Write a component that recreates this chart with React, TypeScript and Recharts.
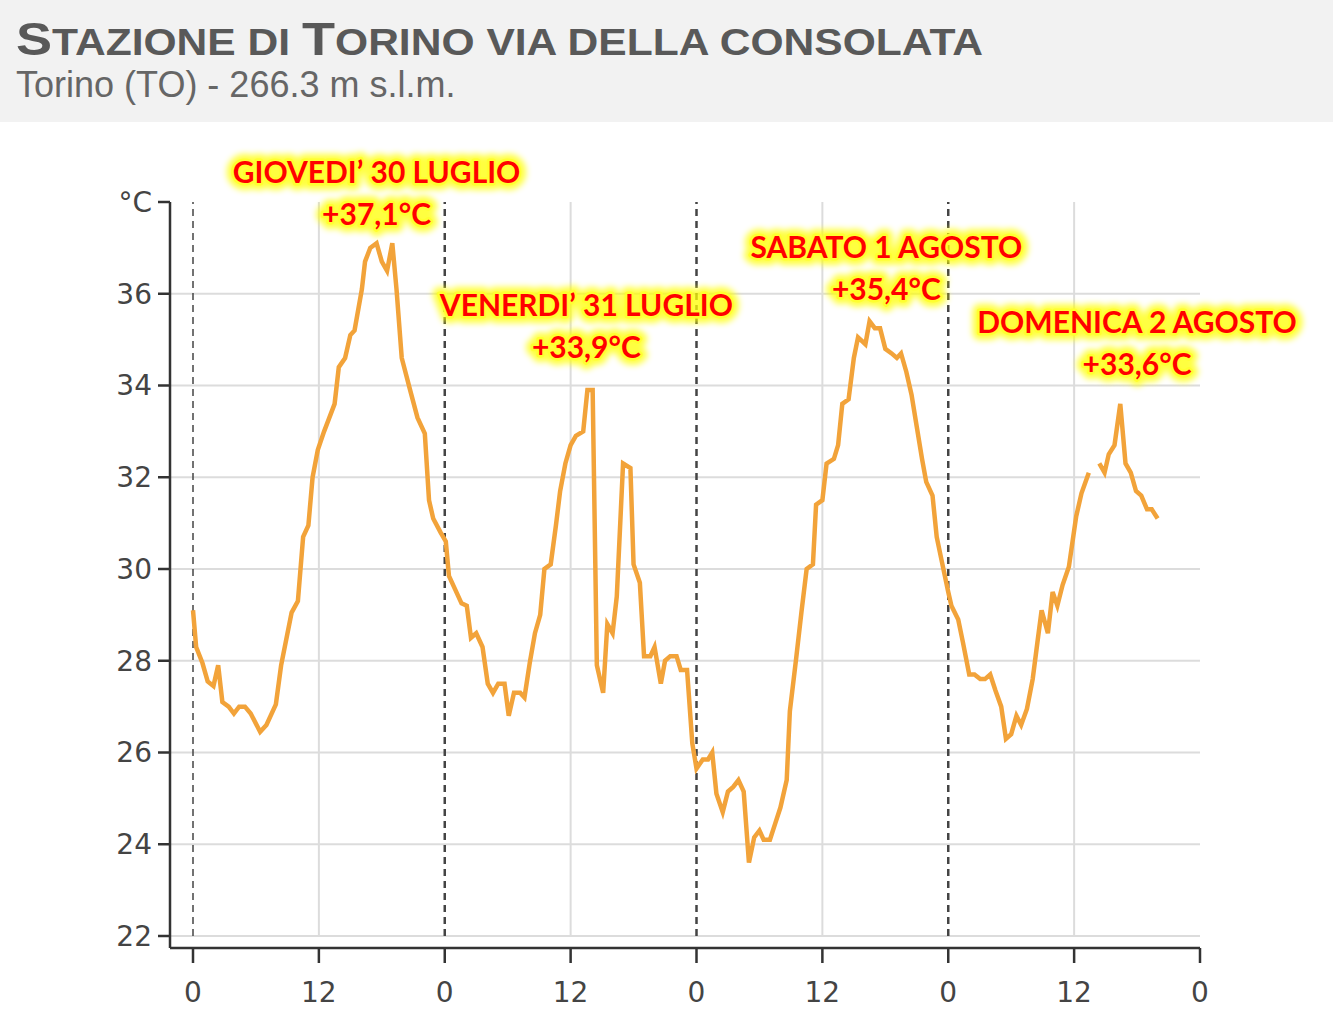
import React from 'react';
import { LineChart, Line, XAxis, YAxis, CartesianGrid, ReferenceLine, ReferenceDot } from 'recharts';

// [hour of the day, °C], one list per day
const thursday: [number, number][] = [
  [0, 29.1], [0.3, 28.3], [0.9, 27.95], [1.4, 27.55], [1.95, 27.45], [2.4, 27.9], [2.8, 27.1],
  [3.4, 27.0], [3.9, 26.85], [4.4, 27.0], [4.95, 27.0], [5.5, 26.85], [6.4, 26.45], [7.0, 26.6],
  [7.9, 27.05], [8.4, 27.9], [9.4, 29.05], [10.0, 29.3], [10.5, 30.7], [11.0, 30.95], [11.4, 32.0],
  [11.9, 32.6], [12.5, 33.0], [13.0, 33.3], [13.5, 33.6], [13.9, 34.4], [14.5, 34.6], [15.0, 35.1],
  [15.4, 35.2], [16.1, 36.1], [16.4, 36.7], [16.9, 37.0], [17.5, 37.1], [18.0, 36.7], [18.5, 36.5],
  [19.0, 37.1], [19.4, 36.1], [19.9, 34.6], [20.7, 33.9], [21.4, 33.3], [22.1, 32.95], [22.5, 31.5],
  [22.9, 31.1], [23.6, 30.8],
];
const friday: [number, number][] = [
  [0.1, 30.6], [0.4, 29.85], [1.0, 29.55], [1.6, 29.25], [2.1, 29.2], [2.5, 28.5], [3.0, 28.6],
  [3.6, 28.3], [4.1, 27.5], [4.6, 27.3], [5.1, 27.5], [5.7, 27.5], [6.1, 26.8], [6.6, 27.3],
  [7.2, 27.3], [7.6, 27.2], [8.1, 27.95], [8.6, 28.6], [9.1, 29.0], [9.5, 30.0], [10.1, 30.1],
  [10.6, 30.95], [11.0, 31.7], [11.5, 32.3], [12.0, 32.7], [12.5, 32.9], [13.2, 33.0], [13.6, 33.9],
  [14.1, 33.9], [14.5, 27.9], [15.1, 27.3], [15.5, 28.8], [16.0, 28.6], [16.4, 29.4], [17.0, 32.3],
  [17.7, 32.2], [18.0, 30.1], [18.6, 29.7], [19.0, 28.1], [19.6, 28.1], [20.0, 28.3], [20.6, 27.5],
  [21.0, 28.0], [21.5, 28.1], [22.1, 28.1], [22.5, 27.8], [23.1, 27.8], [23.6, 26.2],
];
const saturday: [number, number][] = [
  [0.0, 25.65], [0.6, 25.85], [1.1, 25.85], [1.5, 26.0], [1.9, 25.1], [2.5, 24.7], [3.0, 25.15],
  [3.5, 25.25], [4.0, 25.4], [4.5, 25.15], [5.0, 23.6], [5.5, 24.15], [6.0, 24.3], [6.4, 24.1],
  [7.0, 24.1], [7.5, 24.45], [8.0, 24.8], [8.6, 25.4], [8.9, 26.9], [9.5, 28.05], [10.0, 29.05],
  [10.5, 30.0], [11.1, 30.1], [11.4, 31.4], [12.0, 31.5], [12.4, 32.3], [13.1, 32.4], [13.5, 32.7],
  [13.9, 33.6], [14.5, 33.7], [15.0, 34.6], [15.4, 35.05], [16.1, 34.9], [16.5, 35.4], [17.0, 35.25],
  [17.5, 35.25], [18.0, 34.8], [18.6, 34.7], [19.1, 34.6], [19.5, 34.7], [20.0, 34.3], [20.5, 33.8],
  [21.0, 33.1], [21.5, 32.4], [21.9, 31.9], [22.5, 31.6], [22.9, 30.7], [23.4, 30.15],
];
// null = missing readings (gap in the line)
const sunday: [number, number | null][] = [
  [0.0, 29.5], [0.3, 29.2], [0.95, 28.9], [1.4, 28.4], [2.0, 27.7], [2.5, 27.7], [3.05, 27.6],
  [3.5, 27.6], [4.0, 27.7], [4.5, 27.35], [5.05, 27.0], [5.5, 26.3], [6.0, 26.4], [6.5, 26.8],
  [6.95, 26.6], [7.5, 26.95], [8.05, 27.6], [8.5, 28.4], [8.9, 29.1], [9.5, 28.6], [9.95, 29.5],
  [10.4, 29.2], [10.9, 29.65], [11.5, 30.05], [12.2, 31.15], [12.7, 31.65], [13.4, 32.1], [13.9, null],
  [14.4, 32.3], [14.9, 32.1], [15.3, 32.5], [15.85, 32.7], [16.4, 33.6], [16.9, 32.3], [17.4, 32.1],
  [17.9, 31.7], [18.4, 31.6], [18.95, 31.3], [19.4, 31.3], [19.96, 31.1],
];

const days = [thursday, friday, saturday, sunday];
const data = days.flatMap((day, i) => day.map(([h, t]) => ({ hour: i * 24 + h, temp: t })));

const xTicks = [0, 12, 24, 36, 48, 60, 72, 84, 96];
const yTicks = [22, 24, 26, 28, 30, 32, 34, 36, 38];
const gridTemps = [22, 24, 26, 28, 30, 32, 34, 36];
const midnights = [0, 24, 48, 72];
const noons = [12, 36, 60, 84];

const peaks = [
  { day: 'GIOVEDI’ 30 LUGLIO', max: '+37,1°C', hour: 17.5, temp: 37.76 },
  { day: 'VENERDI’ 31 LUGLIO', max: '+33,9°C', hour: 37.5, temp: 34.86 },
  { day: 'SABATO 1 AGOSTO', max: '+35,4°C', hour: 66.1, temp: 36.13 },
  { day: 'DOMENICA 2 AGOSTO', max: '+33,6°C', hour: 90.0, temp: 34.49 },
];

const tickStyle = { fontFamily: 'DejaVu Sans, sans-serif', fontSize: 28, fill: '#444' };

function GlowText({ x, y, text }: { x: number; y: number; text: string }) {
  const base = {
    x, y, textAnchor: 'middle' as const, dominantBaseline: 'central' as const,
    fontFamily: 'Lato, sans-serif', fontWeight: 700, fontSize: 30,
  };
  return (
    <g>
      <text {...base} fill="#ffff00" stroke="#ffff00" strokeWidth={14} strokeLinejoin="round"
        opacity={0.75} style={{ filter: 'blur(3px)' }}>{text}</text>
      <text {...base} fill="#ff0000" stroke="#ffff30" strokeWidth={5} strokeLinejoin="round"
        paintOrder="stroke">{text}</text>
    </g>
  );
}

function Header() {
  return (
    <svg width={1333} height={122} style={{ display: 'block' }}>
      <rect width={1333} height={122} fill="#f2f2f2" />
      <text x={16} y={55} fontFamily="Liberation Sans, Arial, sans-serif" fontWeight={700} fontSize={37}
        fill="#595959" textLength={967} lengthAdjust="spacingAndGlyphs">
        <tspan fontSize={47}>S</tspan>TAZIONE DI <tspan fontSize={47}>T</tspan>ORINO VIA DELLA CONSOLATA
      </text>
      <text x={16} y={97} fontFamily="Liberation Sans, Arial, sans-serif" fontSize={36} fill="#666">
        Torino (TO) - 266.3 m s.l.m.
      </text>
    </svg>
  );
}

export default function App() {
  return (
    <div style={{ position: 'absolute', left: 0, top: 0, width: 1333, height: 1015, background: '#fff' }}>
      <Header />
      <LineChart width={1333} height={893} data={data} margin={{ top: 80, right: 133, left: 100, bottom: 7 }}>
        <CartesianGrid vertical={false} horizontalValues={gridTemps} stroke="#dcdcdc" strokeWidth={2} />
        {noons.map(h => (
          <ReferenceLine key={'n' + h} segment={[{ x: h, y: 22 }, { x: h, y: 38 }]}
            stroke="#dcdcdc" strokeWidth={2} />
        ))}
        {midnights.map(h => (
          <ReferenceLine key={'m' + h} segment={[{ x: h, y: 22 }, { x: h, y: 38 }]}
            stroke="#444" strokeWidth={h === 0 ? 1.5 : 2.5} strokeDasharray="7 5" />
        ))}
        <XAxis dataKey="hour" type="number" domain={[0, 96]} ticks={xTicks} interval={0}
          tickFormatter={v => String(v % 24)} padding={{ left: 23, right: 0 }} height={60}
          tick={tickStyle} tickSize={15} tickMargin={19}
          axisLine={{ stroke: '#333', strokeWidth: 2.5 }} tickLine={{ stroke: '#333', strokeWidth: 2.5 }} />
        <YAxis type="number" domain={[22, 38]} ticks={yTicks} interval={0} width={70}
          tickFormatter={v => (v === 38 ? '°C' : String(v))} padding={{ top: 0, bottom: 12 }}
          tick={tickStyle} tickSize={12} tickMargin={6}
          axisLine={{ stroke: '#333', strokeWidth: 2.5 }} tickLine={{ stroke: '#333', strokeWidth: 2.5 }} />
        <Line type="linear" dataKey="temp" stroke="#f2a33a" strokeWidth={4.5} dot={false}
          connectNulls={false} isAnimationActive={false} />
        {peaks.map(p => (
          <ReferenceDot key={p.day} x={p.hour} y={p.temp} r={0} ifOverflow="visible"
            shape={(props: any) => (
              <g>
                <GlowText x={props.cx} y={props.cy - 42} text={p.day} />
                <GlowText x={props.cx} y={props.cy} text={p.max} />
              </g>
            )} />
        ))}
      </LineChart>
    </div>
  );
}
